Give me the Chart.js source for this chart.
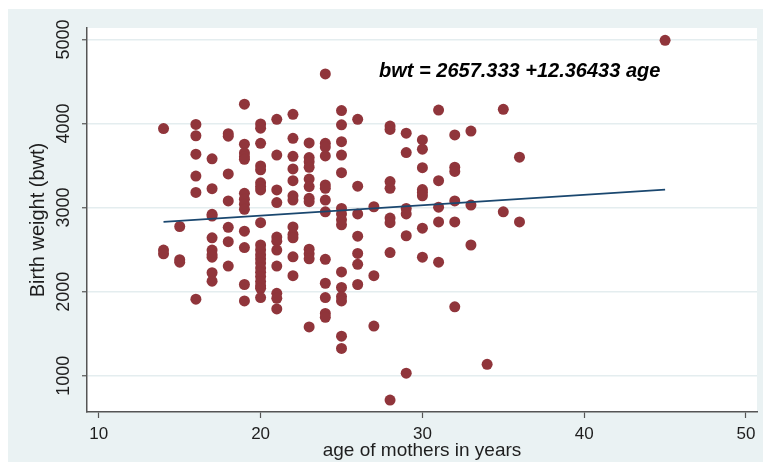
<!DOCTYPE html>
<html>
<head>
<meta charset="utf-8">
<script src="https://cdn.jsdelivr.net/npm/chart.js@4.4.1/dist/chart.umd.min.js"></script>
<style>
  html, body { margin: 0; padding: 0; background: #fff; }
  #wrap { width: 763px; height: 462px; }
</style>
</head>
<body>
<div id="wrap"><canvas id="bwt-chart" width="763" height="462"></canvas></div>
<script>
// mother's age in years, and the birth weights (g) seen at each age
const ageGroups = [14, 15, 16, 17, 18, 19, 20, 21, 22, 23, 24, 25, 26, 27, 28, 29, 30, 31, 32, 33, 34, 35, 36, 45];
const bwtByAge = [
  [3940, 2495, 2450],
  [2775, 2380, 2350],
  [3990, 3855, 3635, 3375, 3180, 1910],
  [3580, 3225, 2920, 2900, 2640, 2495, 2440, 2410, 2225, 2125],
  [3880, 3850, 3400, 3080, 2765, 2595, 2305],
  [4230, 3755, 3650, 3605, 3575, 3170, 3100, 3040, 2980, 2720, 2525, 2085, 1890],
  [3995, 3945, 3765, 3495, 3450, 3295, 3250, 3210, 2820, 2555, 2500, 2440, 2390, 2340, 2280, 2230, 2180, 2120, 2070, 2040, 1930],
  [4050, 3625, 3210, 3060, 2650, 2600, 2495, 2305, 1980, 1920, 1795],
  [4110, 3825, 3610, 3460, 3320, 3140, 3090, 2770, 2680, 2640, 2415, 2190],
  [3770, 3595, 3545, 3480, 3340, 3250, 3110, 3070, 2505, 2450, 2390, 1580],
  [4590, 3765, 3720, 3615, 3270, 3230, 3090, 2950, 2385, 2100, 1930, 1740, 1695],
  [4155, 3985, 3785, 3625, 3415, 2990, 2925, 2855, 2795, 2235, 2050, 1940, 1890, 1470, 1325],
  [4050, 3255, 2925, 2660, 2455, 2325, 2085],
  [3010, 2190, 1590],
  [3970, 3930, 3310, 3230, 2875, 2820, 2465, 710],
  [3885, 3655, 2990, 2925, 2665, 1030],
  [3805, 3695, 3475, 3215, 3180, 3140, 2755, 2410],
  [4160, 3320, 3005, 2830, 2350],
  [3865, 3480, 3430, 3080, 2830, 1820],
  [3910, 3030, 2555],
  [1135],
  [4170, 2950],
  [3600, 2830],
  [4990]
];

// fitted line, as printed on the chart
const intercept = 2657.333;
const slope = 12.36433;
const fitAges = [14, 45];
const equation = 'bwt = 2657.333 +12.36433 age';
const equationAt = [27.32, 4554];

const xTicks = [10, 20, 30, 40, 50];
const yTicks = [1000, 2000, 3000, 4000, 5000];

const FONT = "'Liberation Sans', Arial, sans-serif";
const MAROON = '#90353b';
const NAVY = '#1a476f';
const BG = '#eaf2f3';
const AXIS = '#555';
const TEXT = '#1e1e1e';

const points = [];
ageGroups.forEach((age, i) => {
  bwtByAge[i].forEach(w => points.push({ x: age, y: w }));
});
const fitLine = fitAges.map(a => ({ x: a, y: intercept + slope * a }));

const background = {
  id: 'background',
  beforeDraw(chart) {
    const { ctx, width, height, chartArea: a } = chart;
    ctx.save();
    ctx.fillStyle = '#fff';
    ctx.fillRect(0, 0, width, height);
    ctx.fillStyle = BG;
    ctx.fillRect(8, 9, width - 8, height - 9);
    ctx.fillStyle = '#fff';
    ctx.fillRect(a.left, a.top, a.right - a.left, a.bottom - a.top);
    ctx.restore();
  }
};

const equationLabel = {
  id: 'equationLabel',
  afterDatasetsDraw(chart) {
    const { ctx, scales } = chart;
    ctx.save();
    ctx.font = 'italic bold 20px ' + FONT;
    ctx.fillStyle = '#000';
    ctx.textBaseline = 'alphabetic';
    ctx.fillText(equation, scales.x.getPixelForValue(equationAt[0]), scales.y.getPixelForValue(equationAt[1]));
    ctx.restore();
  }
};

new Chart(document.getElementById('bwt-chart'), {
  type: 'scatter',
  data: {
    datasets: [
      {
        type: 'line',
        data: fitLine,
        borderColor: NAVY,
        borderWidth: 1.6,
        pointRadius: 0,
        fill: false,
        order: 0
      },
      {
        data: points,
        backgroundColor: MAROON,
        borderWidth: 0,
        pointRadius: 5.5,
        order: 1
      }
    ]
  },
  options: {
    responsive: false,
    animation: false,
    layout: { padding: { top: 28, right: 6, left: 0, bottom: 0 } },
    plugins: { legend: { display: false }, tooltip: { enabled: false } },
    scales: {
      x: {
        type: 'linear',
        min: 9.27,
        max: 50.68,
        afterBuildTicks: s => { s.ticks = xTicks.map(v => ({ value: v })); },
        afterFit: s => { s.height = 50; },
        grid: { drawOnChartArea: false, tickLength: 6, tickColor: AXIS, tickWidth: 1.2 },
        border: { color: AXIS, width: 1.5 },
        ticks: { color: TEXT, font: { family: FONT, size: 17 }, padding: 6, maxRotation: 0, callback: v => String(v) },
        title: { display: true, text: 'age of mothers in years', color: TEXT, font: { family: FONT, size: 19 }, padding: { top: 0, bottom: 0 } }
      },
      y: {
        type: 'linear',
        min: 568,
        max: 5137,
        afterBuildTicks: s => { s.ticks = yTicks.map(v => ({ value: v })); },
        afterFit: s => { s.width = 87; },
        grid: { color: '#e4edef', lineWidth: 1.5, tickLength: 5, tickColor: AXIS, tickWidth: 1.2 },
        border: { color: AXIS, width: 1.5 },
        ticks: { color: TEXT, font: { family: FONT, size: 18 }, minRotation: 90, maxRotation: 90, crossAlign: 'center', padding: -2, callback: v => String(v) },
        title: { display: true, text: 'Birth weight (bwt)', color: TEXT, font: { family: FONT, size: 20 }, padding: { top: 26, bottom: 0 } }
      }
    }
  },
  plugins: [background, equationLabel]
});
</script>
</body>
</html>
